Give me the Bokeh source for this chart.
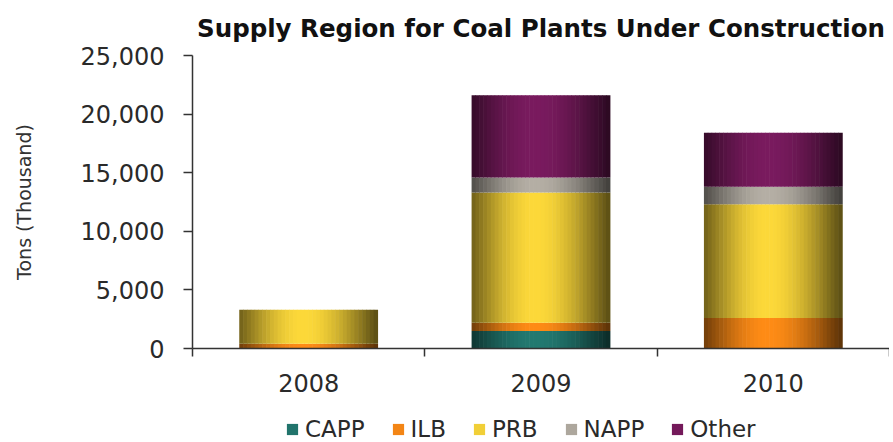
import math
from bokeh.plotting import figure
from bokeh.layouts import column
from bokeh.models import (ColumnDataSource, Range1d, FixedTicker, NumeralTickFormatter,
                          Legend, LegendItem)
from bokeh.embed import file_html
from bokeh.resources import INLINE

# ---- data ----
years = ["2008", "2009", "2010"]
series = ["CAPP", "ILB", "PRB", "NAPP", "Other"]
capp = [0, 1500, 0]
ilb = [400, 700, 2600]
prb = [2900, 11100, 9700]
napp = [0, 1300, 1500]
other = [0, 7000, 4600]
values = [capp, ilb, prb, napp, other]
colors = ["#237a71", "#ff8c16", "#fdd93a", "#b5afa5", "#7a1b5f"]
y_ticks = [0, 5000, 10000, 15000, 20000, 25000]

FONT = "DejaVu Sans"
BAR_W = 0.595
N = 36


def shade(hex_color, t):
    p = 0.46
    u = t / p * 0.5 if t < p else 0.5 + (t - p) / (1 - p) * 0.5
    lo = 0.45 if t < p else 0.36
    f = lo + (1 - lo) * math.sin(math.pi * u) ** 1.1
    r = int(hex_color[1:3], 16)
    g = int(hex_color[3:5], 16)
    b = int(hex_color[5:7], 16)
    return "#%02x%02x%02x" % (int(r * f), int(g * f), int(b * f))


p = figure(frame_width=697, frame_height=293,
           x_range=Range1d(-0.5, 2.5), y_range=Range1d(0, 25000),
           output_backend="svg", toolbar_location=None,
           min_border_left=192, min_border_right=0, min_border_top=55,
           min_border_bottom=66)
p.outline_line_color = None
p.grid.visible = False
p.background_fill_color = "white"
p.border_fill_color = "white"

p.title.text = "Supply Region for Coal Plants Under Construction"
p.title.text_font = FONT
p.title.text_font_size = "24.5px"
p.title.text_font_style = "bold"
p.title.text_color = "#111111"
p.title.align = "center"
p.title.vertical_align = "top"
p.title.standoff = 22

# legend strip figure (holds the legend under the chart); its range keeps
# the proxy bars out of view, only their colours feed the legend swatches
lg = figure(width=889, height=28, x_range=Range1d(-0.5, 2.5),
            y_range=Range1d(40000, 41000),
            output_backend="svg", toolbar_location=None,
            x_axis_location=None, y_axis_location=None,
            min_border=0, min_border_left=0, min_border_right=0,
            min_border_top=0, min_border_bottom=0)
lg.outline_line_color = None
lg.grid.visible = False

bottoms = [0.0] * len(years)
legend_items = []
for s_name, vals, col in zip(series, values, colors):
    xs, bs, ts, cs = [], [], [], []
    for i, v in enumerate(vals):
        for k in range(N):
            t = (k + 0.5) / N
            xs.append(i - BAR_W / 2 + t * BAR_W)
            bs.append(bottoms[i])
            ts.append(bottoms[i] + v)
            cs.append(shade(col, t))
        bottoms[i] += v
    src = ColumnDataSource(dict(x=xs, bottom=bs, top=ts, color=cs))
    p.vbar(x="x", bottom="bottom", top="top", width=BAR_W / N * 1.15,
           fill_color="color", line_color=None, source=src)
    r2 = lg.vbar(x="x", bottom="bottom", top="top", width=BAR_W / N * 1.15,
                 fill_color="color", line_color=None, source=src)
    legend_items.append(LegendItem(label=s_name, renderers=[r2], index=N // 3))

# y axis
ya = p.yaxis[0]
ya.ticker = FixedTicker(ticks=y_ticks)
ya.formatter = NumeralTickFormatter(format="0,0")
ya.axis_label = "Tons (Thousand)"
ya.axis_label_text_font = FONT
ya.axis_label_text_font_size = "19px"
ya.axis_label_text_font_style = "normal"
ya.axis_label_text_color = "#333333"
ya.axis_label_standoff = 43
ya.major_label_text_font = FONT
ya.major_label_text_font_size = "24px"
ya.major_label_text_color = "#2a2a2a"
ya.major_label_standoff = 19
ya.major_tick_out = 9
ya.major_tick_in = 0
ya.minor_tick_line_color = None
ya.axis_line_color = "#333333"
ya.axis_line_width = 1.5
ya.major_tick_line_color = "#333333"
ya.major_tick_line_width = 1.5

# x axis
xa = p.xaxis[0]
xa.ticker = FixedTicker(ticks=[0, 1, 2], minor_ticks=[-0.5, 0.5, 1.5, 2.5])
xa.major_label_overrides = {0: years[0], 1: years[1], 2: years[2]}
xa.major_label_text_font = FONT
xa.major_label_text_font_size = "24px"
xa.major_label_text_color = "#2a2a2a"
xa.major_label_standoff = 16
xa.major_tick_line_color = None
xa.major_tick_out = 9
xa.minor_tick_out = 8
xa.minor_tick_in = 0
xa.minor_tick_line_color = "#333333"
xa.minor_tick_line_width = 1.5
xa.axis_line_color = "#333333"
xa.axis_line_width = 1.5

legend = Legend(items=legend_items, orientation="horizontal", location=(93, 0),
                label_text_font=FONT, label_text_font_size="23px",
                label_text_color="#2a2a2a", glyph_width=14, glyph_height=14,
                label_standoff=6, spacing=26, padding=0, margin=0,
                border_line_color=None, background_fill_alpha=0)
lg.add_layout(legend, "center")

layout = column(p, lg, spacing=0)
open("out.html", "w").write(file_html(layout, INLINE))
